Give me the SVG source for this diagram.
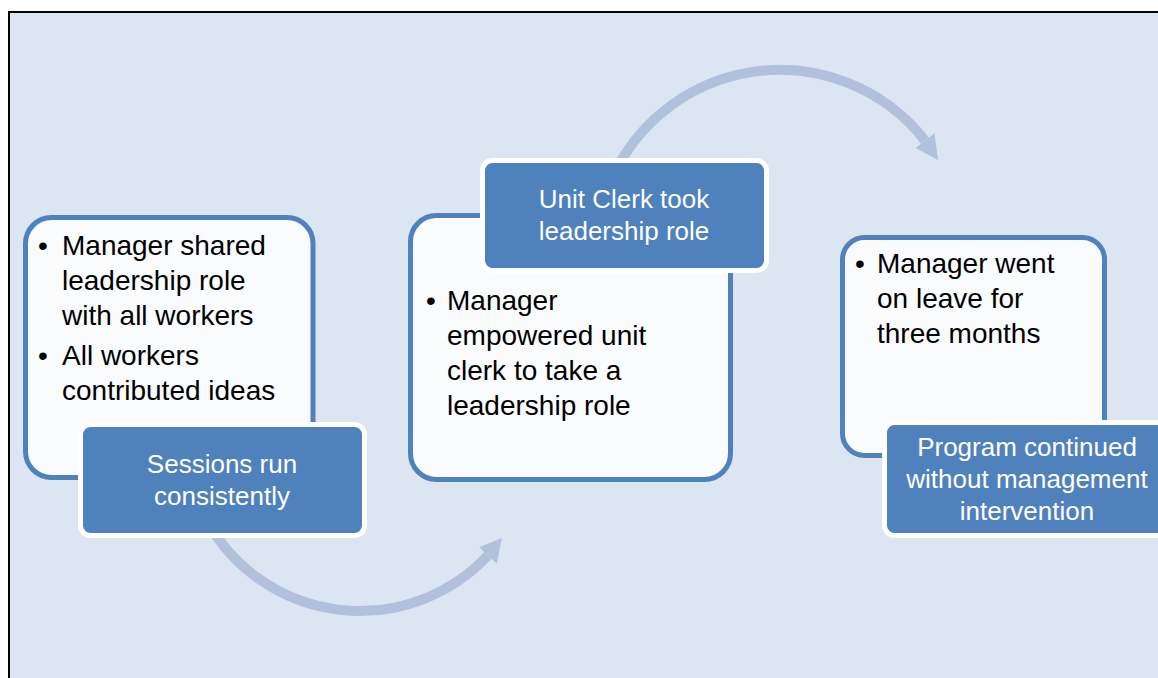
<svg xmlns="http://www.w3.org/2000/svg" width="1158" height="678" viewBox="0 0 1158 678">
<style>
.panel{fill:#fafbfd;stroke:#4f81bd;stroke-width:5}
.tag{fill:#4f81bd;stroke:#ffffff;stroke-width:5}
.body{font-family:"Liberation Sans",Arial,sans-serif;font-size:28px;fill:#000000}
.lbl{font-family:"Liberation Sans",Arial,sans-serif;font-size:26px;fill:#ffffff;text-anchor:middle}
.arc{fill:none;stroke:#b1c1dc;stroke-width:10}
.head{fill:#b1c1dc}
</style>
<rect x="0" y="0" width="1158" height="678" fill="#ffffff"/>
<rect x="9" y="12" width="1160" height="680" fill="#dce6f2" stroke="#000000" stroke-width="2"/>
<g id="connectors">
  <path class="arc" d="M208.4,523.5 A175,175 0 0 0 487.9,555.4"/>
  <polygon class="head" points="496.7,563.6 479.1,547.2 502,538"/>
  <path class="arc" d="M607,191 A184,184 0 0 1 925,140.7"/>
  <polygon class="head" points="934.5,133.3 915.5,148.1 938,160"/>
</g>
<g id="node1">
  <rect class="panel" x="25.5" y="217.5" width="287.5" height="260" rx="26"/>
  <text class="body"><tspan x="38" y="255">•</tspan><tspan x="62" y="255">Manager shared</tspan><tspan x="62" y="290">leadership role</tspan><tspan x="62" y="325">with all workers</tspan><tspan x="38" y="365">•</tspan><tspan x="62" y="365">All workers</tspan><tspan x="62" y="400">contributed ideas</tspan></text>
</g>
<g id="node1-tag">
  <rect class="tag" x="80.5" y="424.5" width="284" height="111" rx="10"/>
  <text class="lbl"><tspan x="222" y="473">Sessions run</tspan><tspan x="222" y="505">consistently</tspan></text>
</g>
<g id="node2">
  <rect class="panel" x="410.5" y="215.5" width="320" height="264" rx="26"/>
  <text class="body"><tspan x="426" y="310">•</tspan><tspan x="447" y="310">Manager</tspan><tspan x="447" y="345">empowered unit</tspan><tspan x="447" y="380">clerk to take a</tspan><tspan x="447" y="415">leadership role</tspan></text>
</g>
<g id="node2-tag">
  <rect class="tag" x="482.5" y="160.5" width="284" height="110" rx="10"/>
  <text class="lbl"><tspan x="624" y="208">Unit Clerk took</tspan><tspan x="624" y="240">leadership role</tspan></text>
</g>
<g id="node3">
  <rect class="panel" x="842.5" y="237.5" width="262" height="218" rx="22"/>
  <text class="body"><tspan x="855" y="273">•</tspan><tspan x="877" y="273">Manager went</tspan><tspan x="877" y="308">on leave for</tspan><tspan x="877" y="343">three months</tspan></text>
</g>
<g id="node3-tag">
  <rect class="tag" x="884.5" y="422.5" width="284" height="113" rx="10"/>
  <text class="lbl"><tspan x="1027" y="456">Program continued</tspan><tspan x="1027" y="488">without management</tspan><tspan x="1027" y="520">intervention</tspan></text>
</g>
</svg>
